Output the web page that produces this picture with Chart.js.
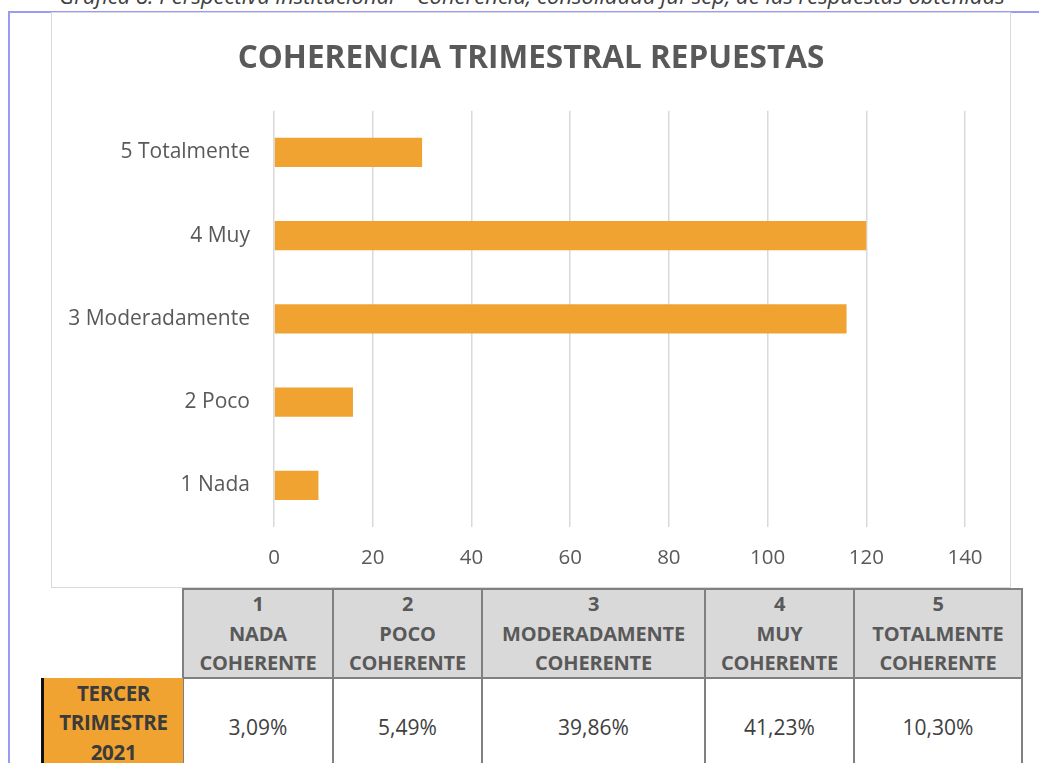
<!DOCTYPE html>
<html>
<head>
<meta charset="utf-8">
<script src="https://cdn.jsdelivr.net/npm/chart.js@4/dist/chart.umd.min.js"></script>
<style>
  html, body { margin: 0; padding: 0; background: #fff; overflow: hidden; }
  body { width: 1039px; height: 763px; position: relative; font-family: "Open Sans", sans-serif; }
  #caption { position: absolute; left: 0; width: 1064px; top: -16px; line-height: 22px; font-size: 22px;
    font-style: italic; color: #404040; text-align: center; white-space: nowrap; }
  #frame { position: absolute; left: 8px; top: 11px; width: 1100px; height: 800px;
    border-left: 2px solid #9b9bf5; border-top: 2px solid #9b9bf5; }
  #chartBox { position: absolute; left: 51px; top: 12px; width: 958px; height: 574px; border: 1px solid #d9d9d9; background: #fff; }
  #chart { position: absolute; left: 0; top: 0; }
  .cell { position: absolute; box-sizing: border-box; display: flex; flex-direction: column;
    align-items: center; justify-content: center; text-align: center; }
  .head { background: #d9d9d9; border: 2px solid #808080; color: #595959; font-weight: bold;
    font-size: 20px; line-height: 29.5px; letter-spacing: -0.2px; }
  .val { background: #fff; border: 2px solid #808080; color: #404040; font-size: 21px; }
  .rowHead { background: #f0a330; border-left: 3px solid #111; color: #3b3b3b; font-weight: bold;
    font-size: 20.5px; line-height: 29.5px; letter-spacing: -0.3px; }
</style>
</head>
<body>
<div id="caption"></div>
<div id="frame"></div>
<div id="chartBox"><canvas id="chart" width="958" height="574"></canvas></div>
<div id="table"></div>
<script>
const captionText = 'Gráfica 8. Perspectiva institucional – Coherencia, consolidada jul-sep, de las respuestas obtenidas';
const chartTitle = 'COHERENCIA TRIMESTRAL REPUESTAS';
const categories = ['1 Nada', '2 Poco', '3 Moderadamente', '4 Muy', '5 Totalmente'];
const responses = [9, 16, 116, 120, 30];
const xTicks = [0, 20, 40, 60, 80, 100, 120, 140];

const tableNums = ['1', '2', '3', '4', '5'];
const tableNames = [['NADA', 'COHERENTE'], ['POCO', 'COHERENTE'], ['MODERADAMENTE', 'COHERENTE'],
  ['MUY', 'COHERENTE'], ['TOTALMENTE', 'COHERENTE']];
const tableRowLabel = ['TERCER', 'TRIMESTRE', '2021'];
const tablePercents = ['3,09%', '5,49%', '39,86%', '41,23%', '10,30%'];

document.getElementById('caption').textContent = captionText;

// table layout
const colEdges = [183, 333, 482, 705, 854, 1022];
const table = document.getElementById('table');
function addCell(cls, x, y, w, h, lines) {
  const d = document.createElement('div');
  d.className = 'cell ' + cls;
  Object.assign(d.style, { left: x + 'px', top: y + 'px', width: w + 'px', height: h + 'px' });
  lines.forEach(t => { const s = document.createElement('div'); s.textContent = t; d.appendChild(s); });
  table.appendChild(d);
}
tableNums.forEach((n, i) => {
  const x = colEdges[i] - 1, w = colEdges[i + 1] - colEdges[i] + 2;
  addCell('head', x, 588, w, 91, [n].concat(tableNames[i]));
  addCell('val', x, 677, w, 100, [tablePercents[i]]);
});
addCell('rowHead', 41, 678, 142, 90, tableRowLabel);

const textColor = '#595959';
new Chart(document.getElementById('chart'), {
  type: 'bar',
  data: {
    labels: categories,
    datasets: [{
      data: responses,
      backgroundColor: '#f0a330',
      borderWidth: 0,
      categoryPercentage: 1,
      barPercentage: 0.35
    }]
  },
  options: {
    indexAxis: 'y',
    responsive: false,
    animation: false,
    layout: { padding: 0 },
    plugins: {
      legend: { display: false },
      tooltip: { enabled: false },
      title: {
        display: true,
        text: chartTitle,
        color: textColor,
        font: { family: 'Open Sans', size: 31.5, weight: 'bold' },
        padding: { top: 27, bottom: 33 }
      }
    },
    scales: {
      x: {
        min: 0,
        max: 140,
        afterBuildTicks: (s) => { s.ticks = xTicks.map(v => ({ value: v })); },
        afterFit: (s) => { s.height = 60; },
        grid: { color: '#d9d9d9', lineWidth: 1.5, drawTicks: false },
        border: { display: false },
        ticks: { color: textColor, font: { family: 'Open Sans', size: 20.5 }, padding: 19 }
      },
      y: {
        reverse: true,
        afterFit: (s) => { s.width = 222; },
        grid: { display: false, drawTicks: false },
        border: { display: false },
        ticks: { color: textColor, font: { family: 'Open Sans', size: 21 }, padding: 24 }
      },
      // empty right-hand spacer so the plot ends at 140 while the title stays centred
      spacer: {
        type: 'category',
        position: 'right',
        afterFit: (s) => { s.width = 45; },
        grid: { display: false, drawTicks: false },
        border: { display: false },
        ticks: { display: false }
      }
    }
  }
});
</script>
</body>
</html>
